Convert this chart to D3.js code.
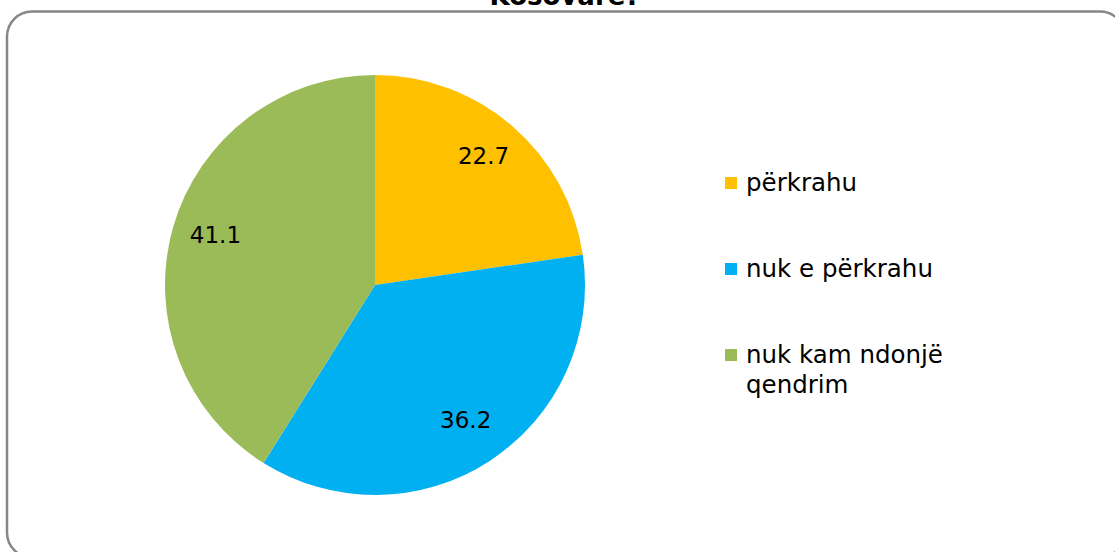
<!DOCTYPE html>
<html>
<head>
<meta charset="utf-8">
<script src="https://cdn.jsdelivr.net/npm/d3@7/dist/d3.min.js"></script>
<style>
html,body{margin:0;padding:0;background:#fff;}
svg{display:block;}
</style>
</head>
<body>
<svg id="chart" width="1115" height="552"></svg>
<script>
const categories = ["përkrahu", "nuk e përkrahu", "nuk kam ndonjë qendrim"];
const legendLines = [["përkrahu"], ["nuk e përkrahu"], ["nuk kam ndonjë", "qendrim"]];
const values = [22.7, 36.2, 41.1];
const colors = ["#FFC000", "#00B0F0", "#9BBB59"];
const titleText = "Kosovare?";

const svg = d3.select("#chart");
const W = 1115, H = 552;

svg.append("rect").attr("width", W).attr("height", H).attr("fill", "#fff");

// frame
svg.append("rect")
  .attr("x", 7).attr("y", 11.5)
  .attr("width", 1118).attr("height", 546)
  .attr("rx", 25).attr("ry", 25)
  .attr("fill", "none")
  .attr("stroke", "#878787")
  .attr("stroke-width", 2.5);

// title (only its last line shows at the top edge, as in the reference)
svg.append("text")
  .attr("x", 565).attr("y", 5)
  .attr("text-anchor", "middle")
  .attr("font-family", "DejaVu Sans, sans-serif")
  .attr("font-weight", "bold")
  .attr("font-size", 26)
  .attr("fill", "#000")
  .text(titleText);

const cx = 375, cy = 285, r = 210;
const color = d3.scaleOrdinal().domain(categories).range(colors);
const data = categories.map((c, i) => ({cat: c, value: values[i]}));
const pie = d3.pie().sort(null).value(d => d.value);
const arcs = pie(data);
const arc = d3.arc().innerRadius(0).outerRadius(r);
const labelArc = d3.arc().innerRadius(166).outerRadius(166);

const g = svg.append("g").attr("transform", `translate(${cx},${cy})`);
g.selectAll("path.slice").data(arcs).join("path")
  .attr("class", "slice")
  .attr("d", arc)
  .attr("fill", d => color(d.data.cat));

g.selectAll("text.lbl").data(arcs).join("text")
  .attr("class", "lbl")
  .attr("transform", d => {
    const c = labelArc.centroid(d);
    return `translate(${c[0]},${c[1] - 4})`;
  })
  .attr("text-anchor", "middle")
  .attr("dy", "0.36em")
  .attr("font-family", "DejaVu Sans, sans-serif")
  .attr("font-size", 23)
  .attr("fill", "#000")
  .text(d => d.data.value.toFixed(1));

// legend
const legendY = d3.scalePoint().domain(categories).range([191, 363]);
const lg = svg.append("g");
const items = lg.selectAll("g.item").data(categories).join("g")
  .attr("class", "item")
  .attr("transform", d => `translate(725,${legendY(d)})`);
items.append("rect")
  .attr("x", 0).attr("y", -14)
  .attr("width", 12).attr("height", 12)
  .attr("fill", d => color(d));
items.each(function(d, i) {
  const t = d3.select(this).append("text")
    .attr("x", 21).attr("y", 0)
    .attr("font-family", "DejaVu Sans, sans-serif")
    .attr("font-size", 24.5)
    .attr("fill", "#000");
  legendLines[i].forEach((line, j) => {
    t.append("tspan").attr("x", 21).attr("y", j * 30).text(line);
  });
});
</script>
</body>
</html>
